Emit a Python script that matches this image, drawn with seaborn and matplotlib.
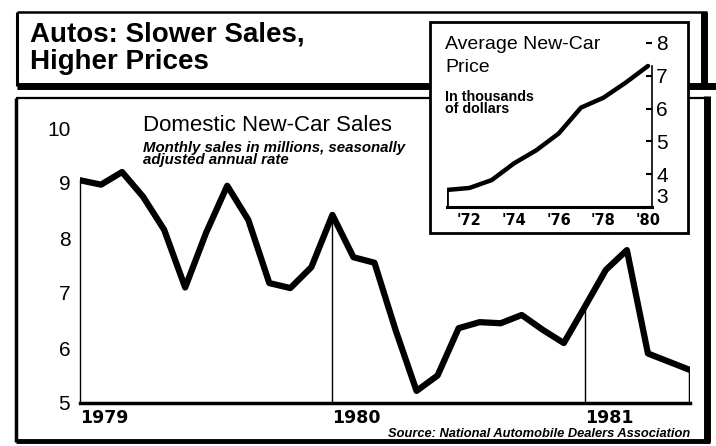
import pandas as pd
import matplotlib.pyplot as plt
import seaborn as sns
from matplotlib.lines import Line2D
from matplotlib.patches import Rectangle

# monthly sales, Jan 1979 .. Jun 1981 (millions, seasonally adjusted annual rate)
months = list(range(30))
sales = [9.05, 8.97, 9.2, 8.75, 8.15, 7.1, 8.1, 8.95, 8.33, 7.18, 7.09, 7.47,
         8.42, 7.65, 7.55, 6.33, 5.22, 5.5, 6.36, 6.47, 6.45, 6.6, 6.33, 6.09,
         6.75, 7.42, 7.78, 5.9, 5.75, 5.6]
year_ticks = [0, 12, 24]
year_labels = ['1979', '1980', '1981']
sales_yticks = [5, 6, 7, 8, 9, 10]

# average new-car price, thousands of dollars
price_years = [1971, 1972, 1973, 1974, 1975, 1976, 1977, 1978, 1979, 1980]
price = [3.52, 3.58, 3.82, 4.33, 4.73, 5.24, 6.03, 6.33, 6.79, 7.3]
price_xticks = [1972, 1974, 1976, 1978, 1980]
price_xlabels = ["'72", "'74", "'76", "'78", "'80"]
price_yticks = [3, 4, 5, 6, 7, 8]

sns.set_style('white')
SANS = ['Liberation Sans', 'DejaVu Sans']
plt.rcParams['font.family'] = SANS
plt.rcParams['text.color'] = 'black'
plt.rcParams['xtick.color'] = 'black'
plt.rcParams['ytick.color'] = 'black'

W, H = 716, 446
fig = plt.figure(figsize=(W / 100, H / 100), dpi=100)


def fx(x):
    return x / W


def fy(y):
    return 1 - y / H


def hline(x0, x1, y, lw):
    fig.add_artist(Line2D([fx(x0), fx(x1)], [fy(y), fy(y)], color='black',
                          lw=lw, zorder=0.5, solid_capstyle='butt'))


def vline(x, y0, y1, lw):
    fig.add_artist(Line2D([fx(x), fx(x)], [fy(y0), fy(y1)], color='black',
                          lw=lw, zorder=0.5, solid_capstyle='butt'))


# title box frame
hline(17, 707, 12, 1.8)
vline(17, 12, 86, 2.2)
vline(704, 12, 86, 5)
hline(17, 716, 86, 5)
# main box frame
hline(16, 708, 98, 1.6)
vline(16, 98, 442, 2.5)
vline(707, 96, 442, 5)
hline(16, 710, 441, 3.5)

fig.text(fx(30), fy(41), 'Autos: Slower Sales,', fontsize=20, fontweight='bold',
         va='baseline')
fig.text(fx(30), fy(69), 'Higher Prices', fontsize=20, fontweight='bold',
         va='baseline')

# main chart
ax = fig.add_axes([fx(80), fy(403), fx(610), (403 - 128) / H], zorder=1)
ax.set_facecolor('none')
df = pd.DataFrame({'month': months, 'sales': sales})
sns.lineplot(data=df, x='month', y='sales', ax=ax, color='black', lw=4.5)
ax.vlines([months[12], months[24]], 5, [sales[12], sales[24]], color='black', lw=1)
ax.vlines(months[-1], 5, sales[-1], color='black', lw=2.5)
ax.set_xlim(0, 29)
ax.set_ylim(5, 10)
for s in ['top', 'right']:
    ax.spines[s].set_visible(False)
ax.spines['left'].set_bounds(5, sales[0])
ax.spines['left'].set_linewidth(1)
ax.spines['bottom'].set_linewidth(2.5)
ax.spines['left'].set_color('black')
ax.spines['bottom'].set_color('black')
ax.set_xticks(year_ticks, year_labels)
ax.set_xticks(months, minor=True)
ax.tick_params(axis='x', which='both', direction='in', length=4, width=1.5,
               color='black', pad=4)
ax.tick_params(axis='x', which='major', length=0)
for t in ax.get_xticklabels():
    t.set_ha('left')
    t.set_fontweight('bold')
    t.set_fontsize(12.5)
    t.set_family('DejaVu Sans')
ax.set_yticks(sales_yticks)
ax.set_yticklabels([str(v) for v in sales_yticks], fontsize=15)
ax.tick_params(axis='y', direction='out', length=5, width=1.5, color='black', pad=2)
ax.set_xlabel('')
ax.set_ylabel('')

fig.text(fx(143), fy(131), 'Domestic New-Car Sales', fontsize=16, va='baseline')
fig.text(fx(143), fy(164), 'Monthly sales in millions, seasonally\nadjusted annual rate',
         fontsize=10.8, fontweight='bold', fontstyle='italic', va='baseline',
         linespacing=0.85)
fig.text(fx(690), fy(437), 'Source: National Automobile Dealers Association',
         fontsize=9.3, fontweight='bold', fontstyle='italic', ha='right', va='baseline')

# inset box
fig.add_artist(Rectangle((fx(430), fy(233)), fx(258), (233 - 22) / H,
                         facecolor='white', edgecolor='black', lw=2, zorder=2))

axin = fig.add_axes([fx(447), fy(207), fx(205), 164 / H], zorder=3)
axin.set_facecolor('none')
dfp = pd.DataFrame({'year': price_years, 'price': price})
sns.lineplot(data=dfp, x='year', y='price', ax=axin, color='black', lw=3.2)
axin.vlines(price_years[0], 3, price[0], color='black', lw=2)
axin.set_xlim(1971, 1980.18)
axin.set_ylim(3, 8)
for s in ['top', 'left']:
    axin.spines[s].set_visible(False)
axin.spines['right'].set_bounds(3, price[-1])
axin.spines['right'].set_linewidth(1.2)
axin.spines['bottom'].set_linewidth(2.2)
axin.spines['right'].set_color('black')
axin.spines['bottom'].set_color('black')
axin.yaxis.tick_right()
axin.set_yticks(price_yticks)
axin.set_yticklabels([str(v) for v in price_yticks], fontsize=15)
axin.get_yticklabels()[0].set_va('bottom')
axin.tick_params(axis='y', direction='in', length=4, width=1.5, color='black', pad=3)
axin.set_xticks(price_xticks, price_xlabels)
axin.set_xticks(price_years, minor=True)
axin.tick_params(axis='x', which='both', direction='in', length=3, width=1.5,
                 color='black', pad=4)
for t in axin.get_xticklabels():
    t.set_fontweight('bold')
    t.set_fontsize(10.5)
    t.set_family('DejaVu Sans')
axin.set_xlabel('')
axin.set_ylabel('')

fig.text(fx(445), fy(49), 'Average New-Car', fontsize=14, va='baseline')
fig.text(fx(445), fy(72), 'Price', fontsize=14, va='baseline')
fig.text(fx(445), fy(113), 'In thousands\nof dollars', fontsize=10.3, fontweight='bold',
         va='baseline', linespacing=0.85)

fig.savefig('out.png', dpi=100)
